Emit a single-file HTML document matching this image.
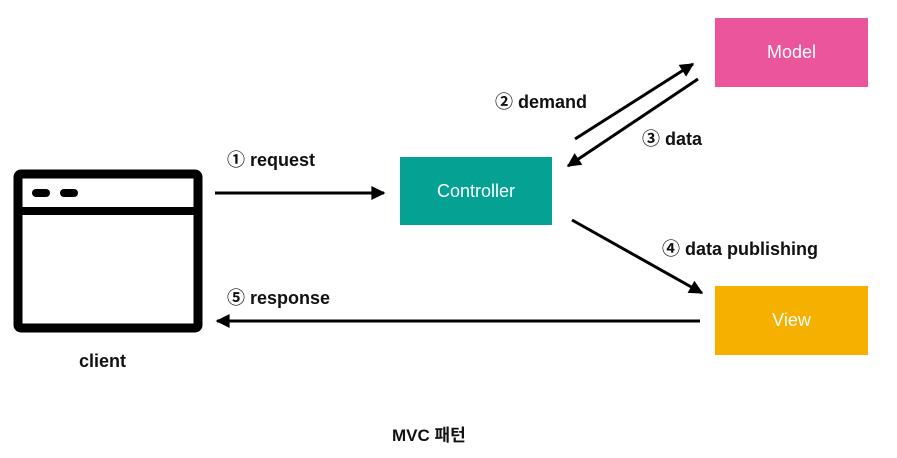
<!DOCTYPE html>
<html><head><meta charset="utf-8"><style>
body{margin:0;background:#fff;width:897px;height:458px;overflow:hidden;position:relative;font-family:"Liberation Sans","Noto Sans CJK KR",sans-serif}
.t{position:absolute;font-weight:bold;font-size:18px;color:#111;white-space:nowrap;line-height:1}
.b{position:absolute;color:#fff;font-size:18px;display:flex;align-items:center;justify-content:center}
</style></head><body>
<svg width="897" height="458" style="position:absolute;left:0;top:0">
<defs><marker id="a" markerWidth="10" markerHeight="10" refX="8" refY="5" orient="auto" markerUnits="userSpaceOnUse"><path d="M0,0 L10,5 L0,10 z" fill="#000"/></marker>
<marker id="h" viewBox="0 0 10 10" markerWidth="16" markerHeight="14" refX="9" refY="5" orient="auto" markerUnits="userSpaceOnUse"><path d="M0,0 L10,5 L0,10 z" fill="#000"/></marker></defs>
<rect x="18" y="174" width="180" height="154" rx="3" fill="none" stroke="#000" stroke-width="9"/>
<line x1="18" y1="211" x2="198" y2="211" stroke="#000" stroke-width="8"/>
<line x1="36" y1="193" x2="46" y2="193" stroke="#000" stroke-width="8" stroke-linecap="round"/>
<line x1="64" y1="193" x2="74" y2="193" stroke="#000" stroke-width="8" stroke-linecap="round"/>
<line x1="215" y1="193" x2="384" y2="193" stroke="#000" stroke-width="3" marker-end="url(#h)"/>
<line x1="700" y1="321" x2="217" y2="321" stroke="#000" stroke-width="3" marker-end="url(#h)"/>
<line x1="575" y1="139" x2="693" y2="64" stroke="#000" stroke-width="3" marker-end="url(#h)"/>
<line x1="698" y1="79" x2="568" y2="166" stroke="#000" stroke-width="3" marker-end="url(#h)"/>
<line x1="572" y1="220" x2="702" y2="293" stroke="#000" stroke-width="3" marker-end="url(#h)"/>
</svg>
<div class="b" style="left:715px;top:18px;width:153px;height:69px;background:#ea559b">Model</div>
<div class="b" style="left:400px;top:157px;width:152px;height:68px;background:#05a192">Controller</div>
<div class="b" style="left:715px;top:286px;width:153px;height:69px;background:#f6b000">View</div>
<div class="t" style="left:227px;top:151px">① request</div>
<div class="t" style="left:227px;top:289px">⑤ response</div>
<div class="t" style="left:79px;top:352px">client</div>
<div class="t" style="left:495px;top:93px">② demand</div>
<div class="t" style="left:642px;top:130px">③ data</div>
<div class="t" style="left:662px;top:240px">④ data publishing</div>
<div class="t" style="left:392px;top:427px;font-size:17px">MVC 패턴</div>
</body></html>
